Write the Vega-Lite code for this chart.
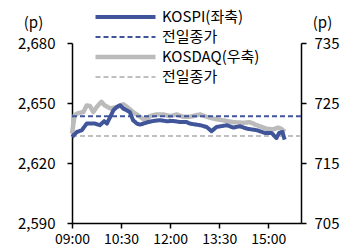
{
  "$schema": "https://vega.github.io/schema/vega-lite/v6.json",
  "width": 229,
  "height": 180,
  "autosize": "none",
  "padding": {"left": 72, "top": 43, "right": 51, "bottom": 28},
  "config": {
    "view": {"stroke": null},
    "font": "Noto Sans CJK KR",
    "axis": {
      "grid": false,
      "domainColor": "#000000",
      "domainWidth": 1.5,
      "tickColor": "#000000",
      "tickWidth": 1.5,
      "tickSize": 5,
      "labelColor": "#000000",
      "labelFontSize": 15,
      "labelOverlap": false,
      "labelFlush": false,
      "titleFontSize": 15,
      "titleFontWeight": "normal",
      "titleColor": "#000000"
    },
    "legend": {
      "labelFontSize": 15,
      "labelColor": "#000000"
    }
  },
  "data": {
    "values": [
      {"s": "KOSPI(좌축)", "t": "2024-01-02T09:00", "v": 2633},
      {"s": "KOSPI(좌축)", "t": "2024-01-02T09:09", "v": 2635.5},
      {"s": "KOSPI(좌축)", "t": "2024-01-02T09:18", "v": 2636.4},
      {"s": "KOSPI(좌축)", "t": "2024-01-02T09:27", "v": 2639.7},
      {"s": "KOSPI(좌축)", "t": "2024-01-02T09:42", "v": 2639.7},
      {"s": "KOSPI(좌축)", "t": "2024-01-02T09:51", "v": 2638.9},
      {"s": "KOSPI(좌축)", "t": "2024-01-02T09:59", "v": 2640.9},
      {"s": "KOSPI(좌축)", "t": "2024-01-02T10:04", "v": 2639.7},
      {"s": "KOSPI(좌축)", "t": "2024-01-02T10:10", "v": 2643},
      {"s": "KOSPI(좌축)", "t": "2024-01-02T10:16", "v": 2646.4},
      {"s": "KOSPI(좌축)", "t": "2024-01-02T10:22", "v": 2648},
      {"s": "KOSPI(좌축)", "t": "2024-01-02T10:28", "v": 2648.9},
      {"s": "KOSPI(좌축)", "t": "2024-01-02T10:34", "v": 2647.2},
      {"s": "KOSPI(좌축)", "t": "2024-01-02T10:40", "v": 2646.4},
      {"s": "KOSPI(좌축)", "t": "2024-01-02T10:46", "v": 2645.5},
      {"s": "KOSPI(좌축)", "t": "2024-01-02T10:52", "v": 2641.4},
      {"s": "KOSPI(좌축)", "t": "2024-01-02T10:59", "v": 2639.7},
      {"s": "KOSPI(좌축)", "t": "2024-01-02T11:05", "v": 2639.2},
      {"s": "KOSPI(좌축)", "t": "2024-01-02T11:11", "v": 2639.7},
      {"s": "KOSPI(좌축)", "t": "2024-01-02T11:20", "v": 2640.5},
      {"s": "KOSPI(좌축)", "t": "2024-01-02T11:29", "v": 2641},
      {"s": "KOSPI(좌축)", "t": "2024-01-02T11:41", "v": 2641.4},
      {"s": "KOSPI(좌축)", "t": "2024-01-02T11:54", "v": 2640.9},
      {"s": "KOSPI(좌축)", "t": "2024-01-02T12:06", "v": 2641},
      {"s": "KOSPI(좌축)", "t": "2024-01-02T12:18", "v": 2640.5},
      {"s": "KOSPI(좌축)", "t": "2024-01-02T12:30", "v": 2640.5},
      {"s": "KOSPI(좌축)", "t": "2024-01-02T12:36", "v": 2639.7},
      {"s": "KOSPI(좌축)", "t": "2024-01-02T12:55", "v": 2638.9},
      {"s": "KOSPI(좌축)", "t": "2024-01-02T13:07", "v": 2638},
      {"s": "KOSPI(좌축)", "t": "2024-01-02T13:16", "v": 2635.9},
      {"s": "KOSPI(좌축)", "t": "2024-01-02T13:25", "v": 2638},
      {"s": "KOSPI(좌축)", "t": "2024-01-02T13:44", "v": 2638.9},
      {"s": "KOSPI(좌축)", "t": "2024-01-02T13:56", "v": 2637.7},
      {"s": "KOSPI(좌축)", "t": "2024-01-02T14:08", "v": 2638.4},
      {"s": "KOSPI(좌축)", "t": "2024-01-02T14:20", "v": 2637.2},
      {"s": "KOSPI(좌축)", "t": "2024-01-02T14:39", "v": 2636.4},
      {"s": "KOSPI(좌축)", "t": "2024-01-02T14:54", "v": 2635},
      {"s": "KOSPI(좌축)", "t": "2024-01-02T15:06", "v": 2635},
      {"s": "KOSPI(좌축)", "t": "2024-01-02T15:15", "v": 2632.5},
      {"s": "KOSPI(좌축)", "t": "2024-01-02T15:20", "v": 2635},
      {"s": "KOSPI(좌축)", "t": "2024-01-02T15:26", "v": 2635.5},
      {"s": "KOSPI(좌축)", "t": "2024-01-02T15:30", "v": 2631.7},
      {"s": "KOSPI 전일종가", "t": "2024-01-02T09:00", "v": 2643.4},
      {"s": "KOSPI 전일종가", "t": "2024-01-02T16:00", "v": 2643.4},
      {"s": "KOSDAQ(우축)", "t": "2024-01-02T09:00", "v": 719.9},
      {"s": "KOSDAQ(우축)", "t": "2024-01-02T09:05", "v": 723},
      {"s": "KOSDAQ(우축)", "t": "2024-01-02T09:11", "v": 723.3},
      {"s": "KOSDAQ(우축)", "t": "2024-01-02T09:21", "v": 723.5},
      {"s": "KOSDAQ(우축)", "t": "2024-01-02T09:27", "v": 724.6},
      {"s": "KOSDAQ(우축)", "t": "2024-01-02T09:33", "v": 724.5},
      {"s": "KOSDAQ(우축)", "t": "2024-01-02T09:39", "v": 723.5},
      {"s": "KOSDAQ(우축)", "t": "2024-01-02T09:45", "v": 724.3},
      {"s": "KOSDAQ(우축)", "t": "2024-01-02T09:54", "v": 725.2},
      {"s": "KOSDAQ(우축)", "t": "2024-01-02T10:00", "v": 724.6},
      {"s": "KOSDAQ(우축)", "t": "2024-01-02T10:10", "v": 724.1},
      {"s": "KOSDAQ(우축)", "t": "2024-01-02T10:22", "v": 724.3},
      {"s": "KOSDAQ(우축)", "t": "2024-01-02T10:34", "v": 724.8},
      {"s": "KOSDAQ(우축)", "t": "2024-01-02T10:43", "v": 724.2},
      {"s": "KOSDAQ(우축)", "t": "2024-01-02T10:52", "v": 723.5},
      {"s": "KOSDAQ(우축)", "t": "2024-01-02T11:05", "v": 722.7},
      {"s": "KOSDAQ(우축)", "t": "2024-01-02T11:14", "v": 722.1},
      {"s": "KOSDAQ(우축)", "t": "2024-01-02T11:23", "v": 722.8},
      {"s": "KOSDAQ(우축)", "t": "2024-01-02T11:35", "v": 723.1},
      {"s": "KOSDAQ(우축)", "t": "2024-01-02T11:47", "v": 723.1},
      {"s": "KOSDAQ(우축)", "t": "2024-01-02T12:00", "v": 722.8},
      {"s": "KOSDAQ(우축)", "t": "2024-01-02T12:12", "v": 723.1},
      {"s": "KOSDAQ(우축)", "t": "2024-01-02T12:24", "v": 722.7},
      {"s": "KOSDAQ(우축)", "t": "2024-01-02T12:36", "v": 722.7},
      {"s": "KOSDAQ(우축)", "t": "2024-01-02T12:55", "v": 723.1},
      {"s": "KOSDAQ(우축)", "t": "2024-01-02T13:07", "v": 722.7},
      {"s": "KOSDAQ(우축)", "t": "2024-01-02T13:19", "v": 722.4},
      {"s": "KOSDAQ(우축)", "t": "2024-01-02T13:38", "v": 722.1},
      {"s": "KOSDAQ(우축)", "t": "2024-01-02T13:56", "v": 721.8},
      {"s": "KOSDAQ(우축)", "t": "2024-01-02T14:14", "v": 721.7},
      {"s": "KOSDAQ(우축)", "t": "2024-01-02T14:26", "v": 721.8},
      {"s": "KOSDAQ(우축)", "t": "2024-01-02T14:39", "v": 721.3},
      {"s": "KOSDAQ(우축)", "t": "2024-01-02T14:57", "v": 720.7},
      {"s": "KOSDAQ(우축)", "t": "2024-01-02T15:09", "v": 720.6},
      {"s": "KOSDAQ(우축)", "t": "2024-01-02T15:18", "v": 720.9},
      {"s": "KOSDAQ(우축)", "t": "2024-01-02T15:24", "v": 720.7},
      {"s": "KOSDAQ(우축)", "t": "2024-01-02T15:30", "v": 720.2},
      {"s": "KOSDAQ 전일종가", "t": "2024-01-02T09:00", "v": 719.5},
      {"s": "KOSDAQ 전일종가", "t": "2024-01-02T16:00", "v": 719.5}
    ]
  },
  "encoding": {
    "x": {
      "field": "t",
      "type": "temporal",
      "scale": {"domain": [
        {"year": 2024, "month": 1, "date": 2, "hours": 9, "minutes": 0},
        {"year": 2024, "month": 1, "date": 2, "hours": 16, "minutes": 0}
      ]},
      "axis": {
        "title": null,
        "format": "%H:%M",
        "labelPadding": 4,
        "labelFontSize": 14,
        "values": [
          {"year": 2024, "month": 1, "date": 2, "hours": 9, "minutes": 0},
          {"year": 2024, "month": 1, "date": 2, "hours": 10, "minutes": 30},
          {"year": 2024, "month": 1, "date": 2, "hours": 12, "minutes": 0},
          {"year": 2024, "month": 1, "date": 2, "hours": 13, "minutes": 30},
          {"year": 2024, "month": 1, "date": 2, "hours": 15, "minutes": 0}
        ]
      }
    },
    "color": {
      "field": "s",
      "type": "nominal",
      "scale": {
        "domain": ["KOSPI(좌축)", "KOSPI 전일종가", "KOSDAQ(우축)", "KOSDAQ 전일종가"],
        "range": ["#41559A", "#41559A", "#BBBBBB", "#BFBFBF"]
      },
      "legend": {
        "title": null,
        "orient": "none",
        "legendX": 21,
        "legendY": -34,
        "symbolType": "stroke",
        "symbolSize": 3600,
        "clipHeight": 16,
        "labelOffset": 4,
        "rowPadding": 4,
        "padding": 0,
        "labelExpr": "indexof(datum.label, '전일종가') >= 0 ? '전일종가' : datum.label"
      }
    },
    "strokeDash": {
      "field": "s",
      "type": "nominal",
      "scale": {
        "domain": ["KOSPI(좌축)", "KOSPI 전일종가", "KOSDAQ(우축)", "KOSDAQ 전일종가"],
        "range": [[1, 0], [5, 3], [1, 0], [5, 3]]
      },
      "legend": null
    },
    "strokeWidth": {
      "field": "s",
      "type": "nominal",
      "scale": {
        "type": "ordinal",
        "domain": ["KOSPI(좌축)", "KOSPI 전일종가", "KOSDAQ(우축)", "KOSDAQ 전일종가"],
        "range": [4, 2, 4.5, 2]
      },
      "legend": null
    }
  },
  "layer": [
    {
      "transform": [{"filter": "indexof(datum.s, 'KOSDAQ') >= 0"}],
      "mark": {"type": "line", "strokeJoin": "round"},
      "encoding": {
        "y": {
          "field": "v",
          "type": "quantitative",
          "scale": {"domain": [705, 735], "nice": false, "zero": false},
          "axis": {
            "orient": "right",
            "values": [705, 715, 725, 735],
            "labelPadding": 8,
            "title": "(p)",
            "titleAngle": 0,
            "titleAlign": "center",
            "titleBaseline": "middle",
            "titleX": 21,
            "titleY": -21
          }
        }
      }
    },
    {
      "transform": [{"filter": "indexof(datum.s, 'KOSPI') >= 0"}],
      "mark": {"type": "line", "strokeJoin": "round"},
      "encoding": {
        "y": {
          "field": "v",
          "type": "quantitative",
          "scale": {"domain": [2590, 2680], "nice": false, "zero": false},
          "axis": {
            "orient": "left",
            "values": [2590, 2620, 2650, 2680],
            "format": ",d",
            "labelPadding": 12,
            "title": "(p)",
            "titleAngle": 0,
            "titleAlign": "center",
            "titleBaseline": "middle",
            "titleX": -39,
            "titleY": -21
          }
        }
      }
    }
  ],
  "resolve": {"scale": {"y": "independent"}}
}
